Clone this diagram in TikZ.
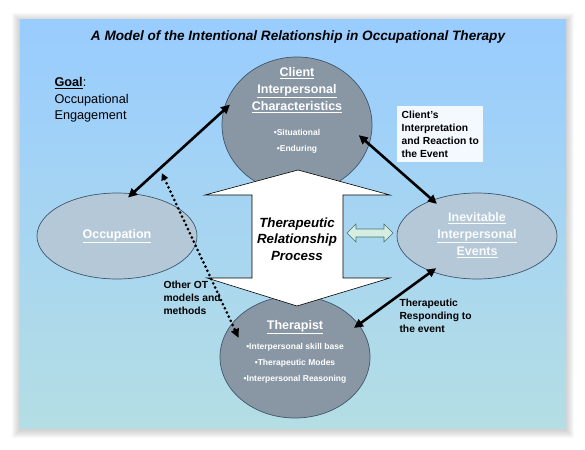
\documentclass[tikz,border=0pt]{standalone}
\usepackage{fontspec}
\setmainfont{Liberation Sans}
\usetikzlibrary{arrows.meta,shapes.geometric}

\definecolor{paneltop}{RGB}{153,204,255}
\definecolor{panelbot}{RGB}{180,222,228}
\definecolor{darkell}{RGB}{137,151,165}
\definecolor{lightell}{RGB}{180,200,216}
\definecolor{rim}{RGB}{62,86,108}
\definecolor{mint}{RGB}{214,238,226}
\definecolor{mintrim}{RGB}{70,112,112}

\begin{document}
\begin{tikzpicture}[x=1pt,y=-1pt]
	\tikzset{ell/.style = {shape=ellipse, draw=rim, line width=0.7pt, inner sep=0pt},
		head/.style = {text=white, font=\bfseries\fontsize{12.5}{17}\selectfont, align=center},
		bul/.style = {text=white, font=\bfseries\fontsize{8.5}{16}\selectfont, align=center},
		lab/.style = {font=\bfseries\fontsize{10.3}{13}\selectfont, align=left},
		link/.style = {line width=2.6pt, {Triangle[length=9pt,width=8.5pt]}-{Triangle[length=9pt,width=8.5pt]}},
		otlink/.style = {line width=3pt, dash pattern=on 0pt off 4.6pt, line cap=round,
			{Triangle[length=7pt,width=7pt]}-{Triangle[length=9pt,width=8pt]}}}
	\useasboundingbox (0,0) rectangle (585,449);
	% shadow and panel
	\foreach \s in {1,...,8}
		\fill[black, opacity=0.025] (20-\s,21-\s) rectangle (566+\s,430+\s);
	\shade[top color=paneltop, bottom color=panelbot] (20,20) rectangle (566,428);
	\node[font=\bfseries\itshape\fontsize{13.6}{15}\selectfont] (title) at (298,37)
		{A Model of the Intentional Relationship in Occupational Therapy};
	\node[anchor=west, align=left, font=\fontsize{12.7}{16.5}\selectfont] (goal) at (51,100)
		{\underline{\textbf{Goal}}:\\ Occupational\\ Engagement};
	% the four ellipses
	\foreach \n/\x/\y/\w/\h/\c in {client/297/125/150/136/darkell, ther/295/357/150/122/darkell,
		occ/117/236/160/86/lightell, event/477/236/160/86/lightell}{
		\node[ell, fill=\c, minimum width=\w pt, minimum height=\h pt] (\n) at (\x,\y) {};
	}
	\node[head] (clienttitle) at (297,90) {\underline{Client}\\ \underline{Interpersonal}\\ \underline{Characteristics}};
	\node[bul] (clientlist) at (297,141) {\textbullet Situational\\ \textbullet Enduring};
	\node[head] (thertitle) at (295,327) {\underline{Therapist}};
	\node[bul] (therlist) at (295,363) {\textbullet Interpersonal skill base\\ \textbullet Therapeutic Modes\\ \textbullet Interpersonal Reasoning};
	\node[head] (occtitle) at (117,236) {\underline{Occupation}};
	\node[head, text=white!92!lightell] (eventtitle) at (477,235) {\underline{Inevitable}\\ \underline{Interpersonal}\\ \underline{Events}};
	% process arrow
	\draw[fill=white, line width=0.6pt] (298,170) -- (390,195) -- (343,195) -- (343,278) -- (390,278)
		-- (297,306) -- (207,278) -- (252,278) -- (252,195) -- (205,195) -- cycle;
	\node[font=\bfseries\itshape\fontsize{13.3}{16.5}\selectfont, align=center] (trp) at (297,239)
		{Therapeutic\\ Relationship\\ Process};
	\draw[fill=mint, draw=mintrim, line width=0.6pt] (347,233) -- (356,224) -- (356,229) -- (384,229)
		-- (384,224) -- (393,233) -- (384,242) -- (384,237) -- (356,237) -- (356,242) -- cycle;
	% connectors
	\draw[link, shorten <=-6pt, shorten >=-9pt] (occ.70) -- coordinate[pos=0.3] (other) (client.169);
	\draw[link, shorten <=-14pt, shorten >=-6pt] (client.-15) -- (event.141);
	\draw[link, shorten <=-6pt, shorten >=-6pt] (ther.27) -- (event.218);
	\draw[otlink, shorten <=5pt, shorten >=-16pt] (other) -- (ther.152);
	% labels
	\node[lab, anchor=north west, fill=white!88!paneltop, inner sep=4.5pt] (interp) at (397,106)
		{Client's\\ Interpretation\\ and Reaction to\\ the Event};
	\node[lab, anchor=west] (otherot) at (160,298) {Other OT\\ models and\\ methods};
	\node[lab, anchor=west] (respond) at (396,316) {Therapeutic\\ Responding to\\ the event};
\end{tikzpicture}
\end{document}
